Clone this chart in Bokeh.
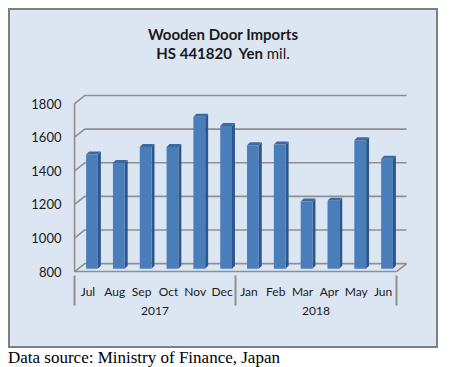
from bokeh.plotting import figure
from bokeh.models import FactorRange, Range1d, FixedTicker, Div, ColumnDataSource
from bokeh.layouts import column
from bokeh.embed import file_html
from bokeh.resources import INLINE
from bokeh.transform import dodge

years = ["2017"] * 6 + ["2018"] * 6
months = ["Jul", "Aug", "Sep", "Oct", "Nov", "Dec",
          "Jan", "Feb", "Mar", "Apr", "May", "Jun"]
values = [1480, 1430, 1525, 1525, 1705, 1650, 1535, 1540, 1200, 1205, 1565, 1455]
y_ticks = [800, 1000, 1200, 1400, 1600, 1800]

BG = "#dce6f2"
GRID = "#8f8f8f"
FACE = "#4a7ebb"
SIDE = "#2d5689"
TOP = "#3c69a3"
FONT = "Lato"
TXT = "#1a1a1a"

factors = list(zip(years, months))
first, last = factors[0], factors[-1]
# empty edge slots so that the axis draws boundary separators at both ends
axis_factors = [(" ", " ")] + factors + [("  ", "  ")]

# pseudo-3D geometry (category units / value units)
DX, DY = 0.38, 48          # wall depth
OFF_X, OFF_Y = 0.15, 17    # bar position inside depth
W = 0.44                   # bar front width
BDX, BDY = 0.11, 18        # bar depth

p = figure(width=426, height=268, output_backend="svg", toolbar_location=None,
           x_range=FactorRange(*axis_factors, group_padding=0, factor_padding=0,
                               range_padding=-0.55, range_padding_units="absolute"),
           y_range=Range1d(795, 1890),
           min_border_left=52, min_border_right=28, min_border_top=10, min_border_bottom=74)
p.background_fill_color = BG
p.border_fill_color = BG
p.outline_line_color = None
p.xgrid.visible = False
p.ygrid.visible = False

# gridlines (front -> back, then along back wall)
gx, gy = [], []
for v in y_ticks:
    gx.append([(*first, -0.5), (*first, -0.5 + DX), (*last, 0.5 + DX)])
    gy.append([v, v + DY, v + DY])
# left wall front edge, floor front edge, floor right edge
gx.append([(*first, -0.5), (*first, -0.5)]); gy.append([y_ticks[0], y_ticks[-1]])
gx.append([(*first, -0.5), (*last, 0.5)]); gy.append([y_ticks[0], y_ticks[0]])
gx.append([(*last, 0.5), (*last, 0.5 + DX)]); gy.append([y_ticks[0], y_ticks[0] + DY])
p.multi_line(xs=gx, ys=gy, line_color=GRID, line_width=1.6)

# bars
src = ColumnDataSource(dict(x=factors, top=[v + OFF_Y for v in values]))
bottom = y_ticks[0] + OFF_Y
side_x, side_y, top_x, top_y = [], [], [], []
for f, v in zip(factors, values):
    l = OFF_X - W / 2
    r = OFF_X + W / 2
    t = v + OFF_Y
    side_x.append([(*f, r), (*f, r + BDX), (*f, r + BDX), (*f, r)])
    side_y.append([bottom, bottom + BDY, t + BDY, t])
    top_x.append([(*f, l), (*f, r), (*f, r + BDX), (*f, l + BDX)])
    top_y.append([t, t, t + BDY, t + BDY])
p.patches(xs=side_x, ys=side_y, fill_color=SIDE, line_color=None)
p.patches(xs=top_x, ys=top_y, fill_color=TOP, line_color=None)
p.quad(left=dodge("x", OFF_X - W / 2, range=p.x_range),
       right=dodge("x", OFF_X + W / 2, range=p.x_range),
       bottom=bottom, top="top", source=src, fill_color=FACE, line_color=None)

# axes
ya = p.yaxis[0]
ya.ticker = FixedTicker(ticks=y_ticks)
ya.axis_line_color = None
ya.major_tick_line_color = None
ya.minor_tick_line_color = None
ya.major_label_standoff = -5
ya.major_label_text_font = FONT
ya.major_label_text_font_size = "13px"
ya.major_label_text_color = TXT

xa = p.xaxis[0]
xa.axis_line_color = None
xa.major_tick_line_color = None
xa.minor_tick_line_color = None
xa.major_label_standoff = 5
xa.major_label_text_font = FONT
xa.major_label_text_font_size = "12px"
xa.major_label_text_color = TXT
xa.group_text_font = FONT
xa.group_text_font_size = "12px"
xa.group_text_color = TXT
xa.group_text_font_style = "normal"
xa.separator_line_color = GRID
xa.separator_line_width = 2

title = Div(text="<div style='padding-top:15px'>Wooden Door Imports<br>HS 441820&nbsp; Yen "
                 "<span style='font-weight:normal'>mil.</span></div>",
            width=426, height=68, margin=0,
            styles={"font-family": FONT, "font-size": "15px", "font-weight": "bold",
                    "line-height": "19px", "text-align": "center", "color": TXT})

box = column(title, p, spacing=0, margin=(8, 0, 0, 8),
             styles={"border": "2px solid #7f7f7f", "background-color": BG})

cap = Div(text="Data source: Ministry of Finance, Japan", width=440, height=19,
          margin=(0, 0, 0, 8),
          styles={"font-family": "Liberation Serif", "font-size": "17px", "line-height": "19px",
                  "color": "#000000"})

layout = column(box, cap, spacing=0)
open("out.html", "w").write(file_html(layout, INLINE))
